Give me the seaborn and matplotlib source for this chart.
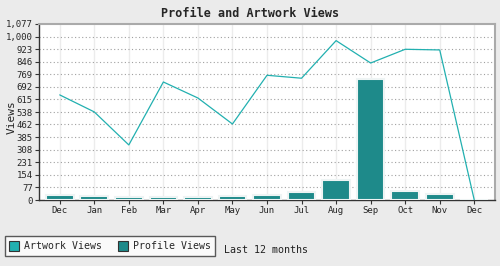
import matplotlib
matplotlib.use("Agg")
import matplotlib.pyplot as plt
import matplotlib.patches as mpatches
import seaborn as sns
import pandas as pd
import numpy as np

months = ["Dec", "Jan", "Feb", "Mar", "Apr", "May", "Jun", "Jul", "Aug", "Sep", "Oct", "Nov", "Dec"]
artwork_views = [643, 539, 337, 722, 624, 465, 763, 745, 975, 838, 922, 918, 0]
profile_views = [32, 26, 20, 20, 20, 26, 30, 47, 120, 743, 53, 35, 0]
yticks = [0, 77, 154, 231, 308, 385, 462, 538, 615, 692, 769, 846, 923, 1000, 1077]
ytick_labels = ["0", "77", "154", "231", "308", "385", "462", "538", "615", "692", "769", "846", "923", "1,000", "1,077"]

bar_color = "#1e8a8a"
line_color = "#22b0b0"
mono = "DejaVu Sans Mono"

sns.set_theme(style="white")
plt.rcParams["font.family"] = [mono]

df = pd.DataFrame({"idx": list(range(len(months))), "artwork": artwork_views, "profile": profile_views})

fig = plt.figure(figsize=(5.0, 2.66), dpi=100, facecolor="#ebebeb")
ax = fig.add_axes([0.078, 0.248, 0.912, 0.662])
ax.set_facecolor("white")

sns.barplot(data=df, x="idx", y="profile", color=bar_color, saturation=1, width=0.8,
            edgecolor="#eef4f4", linewidth=1.5, ax=ax, zorder=3)
sns.lineplot(data=df, x="idx", y="artwork", color=line_color, linewidth=0.9, ax=ax, zorder=4)

ax.set_xlim(-0.6, len(months) - 1 + 0.6)
ax.set_ylim(0, 1077)
ax.set_xticks(range(len(months)))
ax.set_xticklabels(months, fontsize=6.5, family=mono)
ax.set_yticks(yticks)
ax.set_yticklabels(ytick_labels, fontsize=6.5, family=mono)
ax.tick_params(axis="both", length=3, width=0.8, color="#333333", pad=1.5, bottom=True, left=True)

for y in yticks[1:-1]:
    ax.axhline(y, color="#a0a0a0", linestyle=(0, (1, 2.2)), linewidth=0.8, zorder=1)
for x in range(len(months)):
    ax.axvline(x, color="#ececec", linewidth=1.0, zorder=0.5)

for side in ["top", "right"]:
    ax.spines[side].set_color("#aaaaaa")
    ax.spines[side].set_linewidth(1.5)
for side in ["left", "bottom"]:
    ax.spines[side].set_color("#333333")
    ax.spines[side].set_linewidth(1.0)

ax.set_xlabel("")
ax.set_ylabel("Views", fontsize=8, family=mono)
ax.yaxis.set_label_coords(-0.05, 0.47)
fig.suptitle("Profile and Artwork Views", x=0.5, y=0.975, fontsize=8.5, fontweight="bold", family=mono)

handles = [mpatches.Patch(facecolor=line_color, edgecolor="#333333", linewidth=0.8, label="Artwork Views"),
           mpatches.Patch(facecolor=bar_color, edgecolor="#333333", linewidth=0.8, label="Profile Views")]
leg = fig.legend(handles=handles, loc="lower left", bbox_to_anchor=(0.01, 0.038), ncol=2,
                 prop={"family": mono, "size": 7.1}, frameon=True, fancybox=False,
                 handlelength=1.0, handleheight=1.3, handletextpad=0.5, columnspacing=1.6,
                 borderpad=0.45, borderaxespad=0)
leg.get_frame().set_edgecolor("#333333")
leg.get_frame().set_linewidth(1.0)
leg.get_frame().set_facecolor("white")

fig.text(0.448, 0.04, "Last 12 months", fontsize=7.2, family=mono, ha="left", va="bottom", color="#222222")

fig.savefig("out.png", dpi=100, facecolor=fig.get_facecolor())
